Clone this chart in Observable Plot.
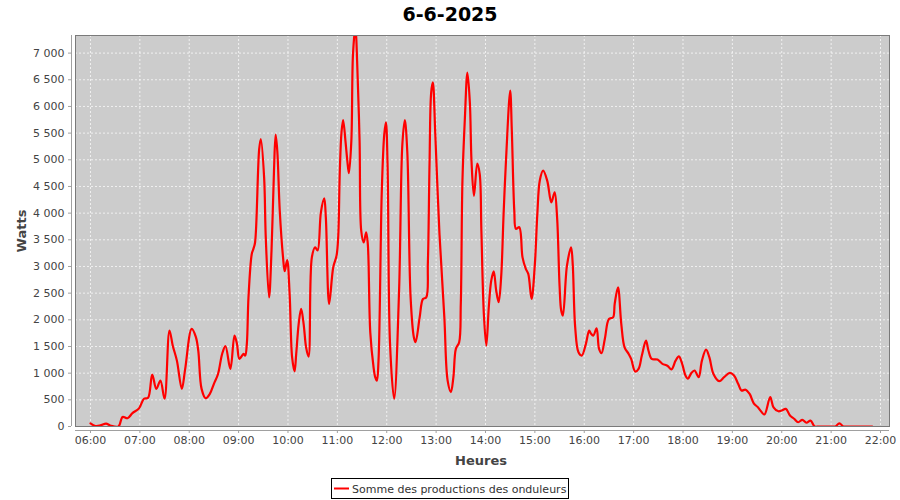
<!DOCTYPE html>
<html><head><meta charset="utf-8">
<script src="https://cdn.jsdelivr.net/npm/d3@7"></script>
<script src="https://cdn.jsdelivr.net/npm/@observablehq/plot@0.6"></script>
<style>body{margin:0;background:#fff}#chart{width:900px;height:500px}</style>
</head><body><div id="chart"></div>
<script>
const title = "6-6-2025";
const xLabel = "Heures";
const yLabel = "Watts";
const seriesName = "Somme des productions des onduleurs";
const day = "2025-06-06";

const times = ["06:00","06:06","06:12","06:19","06:24","06:34","06:39","06:45","06:51","06:59",
"07:05","07:10","07:15","07:20","07:25","07:30","07:36","07:40","07:45","07:51","07:55",
"08:03","08:08","08:11","08:15","08:20","08:25","08:30","08:35","08:40","08:44","08:50","08:55","08:58",
"09:01","09:06","09:08","09:10","09:12","09:16","09:18","09:20","09:25","09:27","09:31","09:33","09:37","09:40","09:43","09:45","09:47","09:50","09:54","09:56","09:59",
"10:02","10:05","10:08","10:10","10:13","10:16","10:19","10:22","10:25","10:29","10:33","10:36","10:40","10:44","10:46","10:50","10:55","10:59",
"11:01","11:03","11:05","11:07","11:10","11:12","11:14","11:17","11:19","11:22","11:24","11:27","11:29","11:32","11:35","11:37","11:40","11:44","11:46","11:48","11:50","11:54","11:57","11:59",
"12:01","12:04","12:09","12:15","12:19","12:22","12:25","12:29","12:33","12:35","12:40","12:44","12:48","12:50","12:52","12:54","12:56","12:59",
"13:04","13:10","13:14","13:18","13:21","13:24","13:28","13:30","13:32","13:35","13:38","13:41","13:43","13:46","13:50","13:53","13:55","13:58",
"14:01","14:04","14:07","14:10","14:13","14:16","14:19","14:22","14:25","14:30","14:32","14:35","14:37","14:41","14:45","14:49","14:52","14:56",
"15:00","15:03","15:06","15:10","15:15","15:20","15:24","15:27","15:30","15:32","15:34","15:39","15:44","15:46","15:49","15:53","15:57",
"16:02","16:06","16:08","16:11","16:15","16:18","16:21","16:25","16:30","16:35","16:37","16:41","16:45","16:49","16:54","16:57",
"17:02","17:06","17:10","17:15","17:18","17:22","17:29","17:35","17:41","17:46","17:51","17:55","17:59",
"18:03","18:06","18:10","18:14","18:19","18:23","18:28","18:32","18:37","18:44","18:50","18:57",
"19:02","19:07","19:11","19:16","19:21","19:26","19:31","19:35","19:39","19:46","19:50","19:56",
"20:00","20:05","20:10","20:15","20:20","20:25","20:30","20:35","20:40","20:45","20:50","20:55",
"21:00","21:05","21:10","21:15","21:20","21:25","21:30","21:35","21:40","21:45","21:50"];

const watts = [60,10,20,55,20,0,180,155,250,340,
520,540,975,705,860,520,1800,1515,1235,705,1070,
1830,1680,1420,705,530,610,800,985,1360,1505,1080,1705,1550,
1268,1360,1330,1550,2420,3235,3330,3450,5200,5390,4670,3545,2420,3300,4795,5470,5170,4045,3170,2910,3120,
2485,1300,1035,1360,1925,2205,1925,1485,1310,3170,3360,3300,4015,4275,3920,2300,2985,3200,
3545,4795,5510,5745,5325,5000,4750,5355,6980,7500,6855,5355,3670,3450,3640,3420,1765,1110,925,860,1235,4420,5480,5700,
4920,1550,520,2550,5295,5745,5140,2420,1670,1580,2045,2390,2420,3075,4920,6260,6450,5480,
3640,2045,860,645,925,1455,1580,2300,4610,5795,6635,6075,4980,4325,4930,4730,3670,2110,
1515,2235,2735,2910,2550,2330,2795,3985,5015,6295,5545,4045,3705,3735,3170,2955,2860,2390,
3045,3985,4610,4795,4610,4200,4390,3920,2640,2175,2080,3015,3360,3045,1860,1390,1330,
1550,1800,1745,1705,1840,1455,1375,1640,2015,2045,2300,2610,1925,1485,1360,1268,
1030,1080,1330,1610,1425,1268,1255,1175,1140,1070,1235,1315,1175,
955,895,1000,1050,925,1235,1440,1300,985,850,925,1005,
955,800,675,690,610,435,360,280,225,550,360,285,
300,330,205,145,80,125,70,110,0,0,0,0,
0,0,60,0,0,0,0,0,0,0,0];

const hourTicks = ["06:00","07:00","08:00","09:00","10:00","11:00","12:00","13:00","14:00","15:00","16:00","17:00","18:00","19:00","20:00","21:00","22:00"];
const wattTicks = [0,500,1000,1500,2000,2500,3000,3500,4000,4500,5000,5500,6000,6500,7000];
const xDomain = ["05:41:48","22:10:56"];
const yDomain = [0, 7330];

const toDate = t => new Date(`${day}T${t.length === 5 ? t + ":00" : t}Z`);
const data = times.map((t, i) => ({time: toDate(t), watts: watts[i]}));
const hourDates = hourTicks.map(toDate);
const frFormat = d3.formatLocale({decimal: ",", thousands: " ", grouping: [3], currency: ["", " €"]}).format(",d");

const grid = {stroke: "#ffffff", strokeOpacity: 0.9, strokeDasharray: "2,2", strokeWidth: 0.8};

const plot = Plot.plot({
  width: 900, height: 500,
  marginLeft: 75, marginRight: 11, marginTop: 35, marginBottom: 74,
  style: {fontFamily: "'DejaVu Sans', sans-serif", fontSize: "11px", color: "#444", background: "#fff"},
  x: {type: "utc", domain: xDomain.map(toDate), label: null},
  y: {domain: yDomain, label: null},
  marks: [
    Plot.frame({fill: "#cccccc", stroke: null}),
    Plot.gridX(hourDates, grid),
    Plot.gridY(wattTicks.filter(d => d > 0), grid),
    Plot.line(data, {x: "time", y: "watts", stroke: "#ff0000", strokeWidth: 2.2, curve: "catmull-rom", clip: true}),
    Plot.frame({stroke: "#7a7a7a", strokeWidth: 1}),
    Plot.ruleX([toDate(xDomain[0])], {dx: -4, stroke: "#a0a0a0"}),
    Plot.ruleY([0], {dy: 4, stroke: "#a0a0a0"}),
    Plot.axisX(hourDates, {tickFormat: d3.utcFormat("%H:%M"), tickSize: 3, dy: 4, tickPadding: 3, label: null, stroke: "#a0a0a0", fill: "#444"}),
    Plot.axisY(wattTicks, {tickFormat: frFormat, tickSize: 3, dx: -4, tickPadding: 4, label: null, stroke: "#a0a0a0", fill: "#444"})
  ]
});
document.getElementById("chart").appendChild(plot);

const svg = d3.select(plot);
svg.append("text").attr("x", 450).attr("y", 21).attr("text-anchor", "middle")
  .attr("font-size", 19).attr("font-weight", "bold").attr("fill", "#000").text(title);
svg.append("text").attr("transform", "translate(25.5,231) rotate(-90)").attr("text-anchor", "middle")
  .attr("font-size", 13).attr("font-weight", "bold").attr("fill", "#444").text(yLabel);
svg.append("text").attr("x", 481).attr("y", 465).attr("text-anchor", "middle")
  .attr("font-size", 13).attr("font-weight", "bold").attr("fill", "#444").text(xLabel);
const lg = svg.append("g");
lg.append("rect").attr("x", 331.5).attr("y", 478.5).attr("width", 237).attr("height", 20)
  .attr("fill", "#fff").attr("stroke", "#000");
lg.append("line").attr("x1", 334).attr("x2", 349).attr("y1", 488.5).attr("y2", 488.5)
  .attr("stroke", "#ff0000").attr("stroke-width", 2);
lg.append("text").attr("x", 352).attr("y", 492.5).attr("text-anchor", "start")
  .attr("font-size", 11).attr("fill", "#333").text(seriesName);
</script>
</body></html>
